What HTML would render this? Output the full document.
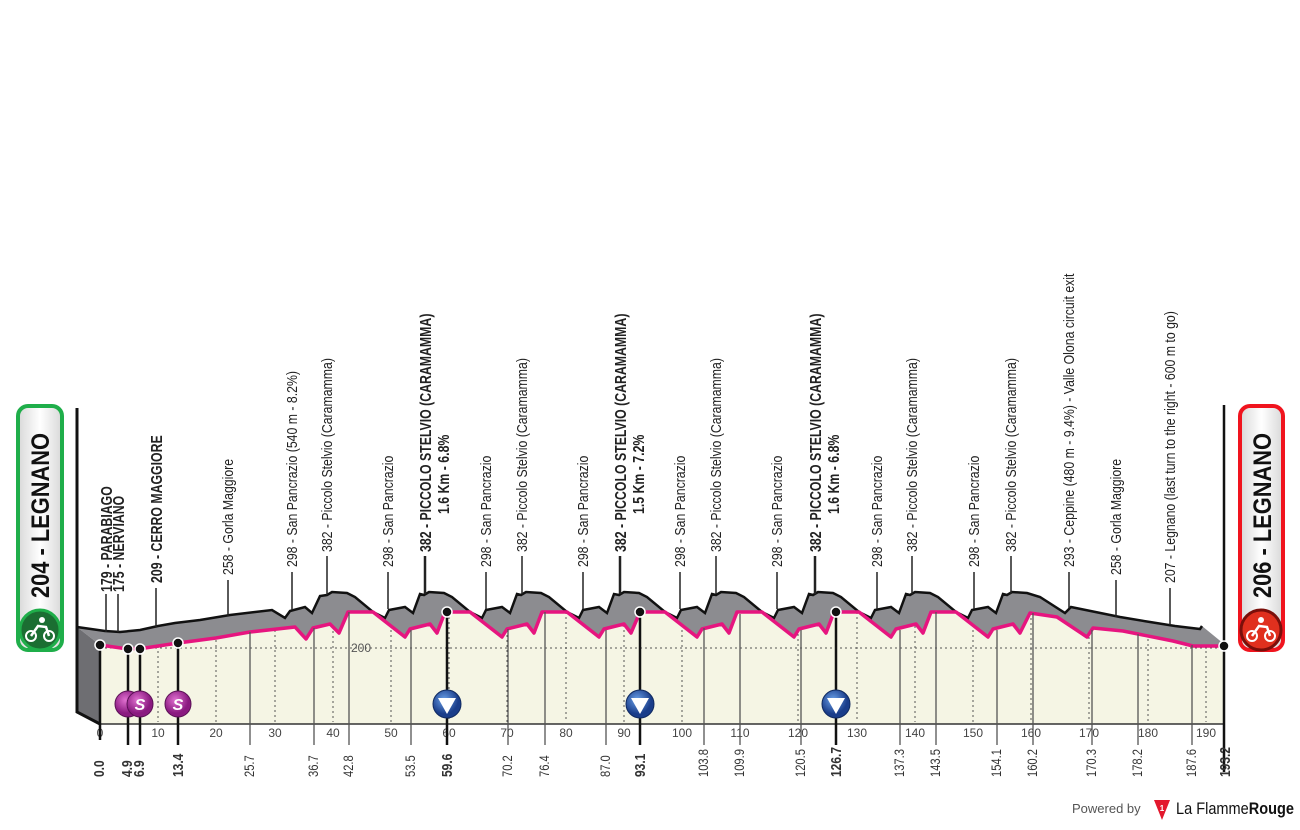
<!DOCTYPE html>
<html><head><meta charset="utf-8"><style>
body{margin:0;background:#fff;}
svg text{font-family:"Liberation Sans Narrow","Liberation Sans",sans-serif;}
</style></head><body>
<svg width="1300" height="825" viewBox="0 0 1300 825" xmlns="http://www.w3.org/2000/svg">
<defs>
<linearGradient id="bg" x1="0" x2="1"><stop offset="0" stop-color="#d8d8d8"/><stop offset="0.5" stop-color="#fff"/><stop offset="1" stop-color="#d8d8d8"/></linearGradient>
<radialGradient id="sg" cx="0.4" cy="0.35"><stop offset="0" stop-color="#e070d0"/><stop offset="1" stop-color="#8a1a80"/></radialGradient>
<radialGradient id="bl" cx="0.4" cy="0.35"><stop offset="0" stop-color="#6aa0e8"/><stop offset="1" stop-color="#1a3d8a"/></radialGradient>
</defs>
<polygon fill="#f5f5e4" points="100,645 128,649 145,648 178,643 216,638 250,632 295,627 306,639 313,628 330,624 339,633 348,612 373,612 405,637 410,629 430,624 437,633 445,612 470,612 502,637 507,629 527,624 534,633 542,612 567,612 599,637 604,629 624,624 631,633 640,612 665,612 697,637 702,629 722,624 729,633 737,612 762,612 794,637 799,629 819,624 826,633 834,612 859,612 891,637 896,629 916,624 923,633 931,612 956,612 988,637 993,629 1013,624 1020,633 1030,613 1057,617 1087,637 1093,628 1123,631 1173,641 1193,646 1224,646 1224,724 100,724"/>
<g stroke="#555" stroke-width="1" stroke-dasharray="2,3">
<line x1="158" y1="646" x2="158" y2="722"/><line x1="216" y1="640" x2="216" y2="722"/><line x1="275" y1="630" x2="275" y2="722"/><line x1="333" y1="626" x2="333" y2="722"/><line x1="391" y1="625" x2="391" y2="722"/><line x1="449" y1="612" x2="449" y2="722"/><line x1="507" y1="630" x2="507" y2="722"/><line x1="566" y1="612" x2="566" y2="722"/><line x1="624" y1="625" x2="624" y2="722"/><line x1="682" y1="625" x2="682" y2="722"/><line x1="740" y1="614" x2="740" y2="722"/><line x1="798" y1="634" x2="798" y2="722"/><line x1="857" y1="612" x2="857" y2="722"/><line x1="915" y1="626" x2="915" y2="722"/><line x1="973" y1="630" x2="973" y2="722"/><line x1="1031" y1="613" x2="1031" y2="722"/><line x1="1089" y1="632" x2="1089" y2="722"/><line x1="1148" y1="634" x2="1148" y2="722"/><line x1="1206" y1="646" x2="1206" y2="722"/>
<line x1="100" y1="648" x2="1224" y2="648"/>
</g>
<text x="351" y="652" font-size="12" fill="#555">200</text>
<polygon fill="#8c8c90" points="77,627 105,631 120,632 140,630 158,626 175,623 200,620 230,615 272,610 285,618 290,611 305,607 312,613 320,596 327,595 332,592 347,593 355,597 373,612 385,618 389,610 405,607 413,613 420,594 424,595 429,592 444,593 452,597 470,612 482,618 486,610 502,607 510,613 517,594 521,595 526,592 541,593 549,597 567,612 579,618 583,610 599,607 607,613 614,594 619,595 624,592 639,593 647,597 665,612 677,618 681,610 697,607 705,613 712,594 716,595 721,592 736,593 744,597 762,612 774,618 778,610 794,607 802,613 809,594 813,595 818,592 833,593 841,597 859,612 871,618 875,610 891,607 899,613 906,594 910,595 915,592 930,593 938,597 956,612 968,618 972,610 988,607 996,613 1003,594 1007,595 1012,592 1027,593 1040,597 1065,613 1071,607 1120,617 1150,622 1175,626 1200,629 1202,626 1224,644 1224,646 1193,646 1173,641 1123,631 1093,628 1087,637 1057,617 1030,613 1020,633 1013,624 993,629 988,637 956,612 931,612 923,633 916,624 896,629 891,637 859,612 834,612 826,633 819,624 799,629 794,637 762,612 737,612 729,633 722,624 702,629 697,637 665,612 640,612 631,633 624,624 604,629 599,637 567,612 542,612 534,633 527,624 507,629 502,637 470,612 445,612 437,633 430,624 410,629 405,637 373,612 348,612 339,633 330,624 313,628 306,639 295,627 250,632 216,638 178,643 145,648 128,649 100,645"/>
<polygon fill="#6e6e72" points="77,627 100,645 100,724 77,712"/>
<polyline fill="none" stroke="#111" stroke-width="2.5" points="77,627 105,631 120,632 140,630 158,626 175,623 200,620 230,615 272,610 285,618 290,611 305,607 312,613 320,596 327,595 332,592 347,593 355,597 373,612 385,618 389,610 405,607 413,613 420,594 424,595 429,592 444,593 452,597 470,612 482,618 486,610 502,607 510,613 517,594 521,595 526,592 541,593 549,597 567,612 579,618 583,610 599,607 607,613 614,594 619,595 624,592 639,593 647,597 665,612 677,618 681,610 697,607 705,613 712,594 716,595 721,592 736,593 744,597 762,612 774,618 778,610 794,607 802,613 809,594 813,595 818,592 833,593 841,597 859,612 871,618 875,610 891,607 899,613 906,594 910,595 915,592 930,593 938,597 956,612 968,618 972,610 988,607 996,613 1003,594 1007,595 1012,592 1027,593 1040,597 1065,613 1071,607 1120,617 1150,622 1175,626 1200,629 1202,626"/>
<polyline fill="none" stroke="#111" stroke-width="3" points="77,408 77,712 100,724"/>
<line x1="100" y1="724" x2="1224" y2="724" stroke="#333" stroke-width="1.5"/>
<line x1="1224" y1="405" x2="1224" y2="772" stroke="#111" stroke-width="2.5"/>
<polyline fill="none" stroke="#e6157f" stroke-width="3.5" stroke-linejoin="round" points="100,645 128,649 145,648 178,643 216,638 250,632 295,627 306,639 313,628 330,624 339,633 348,612 373,612 405,637 410,629 430,624 437,633 445,612 470,612 502,637 507,629 527,624 534,633 542,612 567,612 599,637 604,629 624,624 631,633 640,612 665,612 697,637 702,629 722,624 729,633 737,612 762,612 794,637 799,629 819,624 826,633 834,612 859,612 891,637 896,629 916,624 923,633 931,612 956,612 988,637 993,629 1013,624 1020,633 1030,613 1057,617 1087,637 1093,628 1123,631 1173,641 1193,646 1224,646"/>
<g stroke="#222" stroke-width="1.5">
<line x1="106" y1="594" x2="106" y2="632"/><line x1="118" y1="594" x2="118" y2="632"/>
<line x1="156" y1="588" x2="156" y2="627"/>
<line x1="228" y1="580" x2="228" y2="616"/>
<line x1="292" y1="572" x2="292" y2="610"/><line x1="327" y1="556" x2="327" y2="595"/>
<line x1="388" y1="572" x2="388" y2="609"/><line x1="425" y1="556" x2="425" y2="594" stroke-width="2.5"/>
<line x1="486" y1="572" x2="486" y2="609"/><line x1="522" y1="556" x2="522" y2="594"/>
<line x1="583" y1="572" x2="583" y2="609"/><line x1="620" y1="556" x2="620" y2="594" stroke-width="2.5"/>
<line x1="680" y1="572" x2="680" y2="609"/><line x1="716" y1="556" x2="716" y2="594"/>
<line x1="777" y1="572" x2="777" y2="609"/><line x1="815" y1="556" x2="815" y2="594" stroke-width="2.5"/>
<line x1="877" y1="572" x2="877" y2="609"/><line x1="912" y1="556" x2="912" y2="594"/>
<line x1="974" y1="572" x2="974" y2="609"/><line x1="1011" y1="556" x2="1011" y2="594"/>
<line x1="1069" y1="572" x2="1069" y2="608"/><line x1="1116" y1="580" x2="1116" y2="617"/><line x1="1170" y1="588" x2="1170" y2="625"/>
</g>
<g font-size="15" fill="#222">
<text transform="translate(112,592) rotate(-90) scale(0.77,1)" font-weight="bold" font-size="16">179 - PARABIAGO</text>
<text transform="translate(124,592) rotate(-90) scale(0.77,1)" font-weight="bold" font-size="16">175 - NERVIANO</text>
<text transform="translate(162,583) rotate(-90) scale(0.77,1)" font-weight="bold" font-size="16">209 - CERRO MAGGIORE</text>
<text transform="translate(233,575) rotate(-90) scale(0.82,1)">258 - Gorla Maggiore</text>
<text transform="translate(297,567) rotate(-90) scale(0.82,1)">298 - San Pancrazio (540 m - 8.2%)</text>
<text transform="translate(332,552) rotate(-90) scale(0.82,1)">382 - Piccolo Stelvio (Caramamma)</text>
<text transform="translate(393,567) rotate(-90) scale(0.82,1)">298 - San Pancrazio</text>
<text transform="translate(431,552) rotate(-90) scale(0.77,1)" font-weight="bold" font-size="16">382 - PICCOLO STELVIO (CARAMAMMA)</text>
<text transform="translate(449,514) rotate(-90) scale(0.77,1)" font-weight="bold" font-size="16">1.6 Km - 6.8%</text>
<text transform="translate(491,567) rotate(-90) scale(0.82,1)">298 - San Pancrazio</text>
<text transform="translate(527,552) rotate(-90) scale(0.82,1)">382 - Piccolo Stelvio (Caramamma)</text>
<text transform="translate(588,567) rotate(-90) scale(0.82,1)">298 - San Pancrazio</text>
<text transform="translate(626,552) rotate(-90) scale(0.77,1)" font-weight="bold" font-size="16">382 - PICCOLO STELVIO (CARAMAMMA)</text>
<text transform="translate(644,514) rotate(-90) scale(0.77,1)" font-weight="bold" font-size="16">1.5 Km - 7.2%</text>
<text transform="translate(685,567) rotate(-90) scale(0.82,1)">298 - San Pancrazio</text>
<text transform="translate(721,552) rotate(-90) scale(0.82,1)">382 - Piccolo Stelvio (Caramamma)</text>
<text transform="translate(782,567) rotate(-90) scale(0.82,1)">298 - San Pancrazio</text>
<text transform="translate(821,552) rotate(-90) scale(0.77,1)" font-weight="bold" font-size="16">382 - PICCOLO STELVIO (CARAMAMMA)</text>
<text transform="translate(839,514) rotate(-90) scale(0.77,1)" font-weight="bold" font-size="16">1.6 Km - 6.8%</text>
<text transform="translate(882,567) rotate(-90) scale(0.82,1)">298 - San Pancrazio</text>
<text transform="translate(917,552) rotate(-90) scale(0.82,1)">382 - Piccolo Stelvio (Caramamma)</text>
<text transform="translate(979,567) rotate(-90) scale(0.82,1)">298 - San Pancrazio</text>
<text transform="translate(1016,552) rotate(-90) scale(0.82,1)">382 - Piccolo Stelvio (Caramamma)</text>
<text transform="translate(1074,567) rotate(-90) scale(0.82,1)">293 - Ceppine (480 m - 9.4%) - Valle Olona circuit exit</text>
<text transform="translate(1121,575) rotate(-90) scale(0.82,1)">258 - Gorla Maggiore</text>
<text transform="translate(1175,583) rotate(-90) scale(0.82,1)">207 - Legnano (last turn to the right - 600 m to go)</text>
</g>
<g font-size="12" fill="#444" text-anchor="middle">
<text x="100" y="737">0</text><text x="158" y="737">10</text><text x="216" y="737">20</text><text x="275" y="737">30</text><text x="333" y="737">40</text><text x="391" y="737">50</text><text x="449" y="737">60</text><text x="507" y="737">70</text><text x="566" y="737">80</text><text x="624" y="737">90</text><text x="682" y="737">100</text><text x="740" y="737">110</text><text x="798" y="737">120</text><text x="857" y="737">130</text><text x="915" y="737">140</text><text x="973" y="737">150</text><text x="1031" y="737">160</text><text x="1089" y="737">170</text><text x="1148" y="737">180</text><text x="1206" y="737">190</text>
</g>
<g stroke="#555" stroke-width="1.3">
<line x1="250" y1="632" x2="250" y2="745"/><line x1="314" y1="628" x2="314" y2="745"/><line x1="349" y1="612" x2="349" y2="745"/><line x1="411" y1="630" x2="411" y2="745"/><line x1="508" y1="629" x2="508" y2="745"/><line x1="545" y1="612" x2="545" y2="745"/><line x1="606" y1="630" x2="606" y2="745"/><line x1="704" y1="628" x2="704" y2="745"/><line x1="740" y1="614" x2="740" y2="745"/><line x1="801" y1="630" x2="801" y2="745"/><line x1="900" y1="630" x2="900" y2="745"/><line x1="936" y1="612" x2="936" y2="745"/><line x1="997" y1="630" x2="997" y2="745"/><line x1="1033" y1="613" x2="1033" y2="745"/><line x1="1092" y1="630" x2="1092" y2="745"/><line x1="1138" y1="634" x2="1138" y2="745"/><line x1="1192" y1="645" x2="1192" y2="745"/>
</g>
<g stroke="#111" stroke-width="2.5">
<line x1="100" y1="645" x2="100" y2="740"/><line x1="128" y1="649" x2="128" y2="745"/><line x1="140" y1="649" x2="140" y2="745"/><line x1="178" y1="643" x2="178" y2="745"/>
<line x1="447" y1="612" x2="447" y2="745"/><line x1="640" y1="612" x2="640" y2="745"/><line x1="836" y1="612" x2="836" y2="745"/>
</g>
<g font-size="14" fill="#333">
<text transform="translate(104,777) rotate(-90) scale(0.8,1)" font-weight="bold" font-size="15">0.0</text>
<text transform="translate(132,777) rotate(-90) scale(0.8,1)" font-weight="bold" font-size="15">4.9</text>
<text transform="translate(144,777) rotate(-90) scale(0.8,1)" font-weight="bold" font-size="15">6.9</text>
<text transform="translate(183,777) rotate(-90) scale(0.8,1)" font-weight="bold" font-size="15">13.4</text>
<text transform="translate(254,777) rotate(-90) scale(0.8,1)">25.7</text>
<text transform="translate(318,777) rotate(-90) scale(0.8,1)">36.7</text>
<text transform="translate(353,777) rotate(-90) scale(0.8,1)">42.8</text>
<text transform="translate(415,777) rotate(-90) scale(0.8,1)">53.5</text>
<text transform="translate(452,777) rotate(-90) scale(0.8,1)" font-weight="bold" font-size="15">59.6</text>
<text transform="translate(512,777) rotate(-90) scale(0.8,1)">70.2</text>
<text transform="translate(549,777) rotate(-90) scale(0.8,1)">76.4</text>
<text transform="translate(610,777) rotate(-90) scale(0.8,1)">87.0</text>
<text transform="translate(645,777) rotate(-90) scale(0.8,1)" font-weight="bold" font-size="15">93.1</text>
<text transform="translate(708,777) rotate(-90) scale(0.8,1)">103.8</text>
<text transform="translate(744,777) rotate(-90) scale(0.8,1)">109.9</text>
<text transform="translate(805,777) rotate(-90) scale(0.8,1)">120.5</text>
<text transform="translate(841,777) rotate(-90) scale(0.8,1)" font-weight="bold" font-size="15">126.7</text>
<text transform="translate(904,777) rotate(-90) scale(0.8,1)">137.3</text>
<text transform="translate(940,777) rotate(-90) scale(0.8,1)">143.5</text>
<text transform="translate(1001,777) rotate(-90) scale(0.8,1)">154.1</text>
<text transform="translate(1037,777) rotate(-90) scale(0.8,1)">160.2</text>
<text transform="translate(1096,777) rotate(-90) scale(0.8,1)">170.3</text>
<text transform="translate(1142,777) rotate(-90) scale(0.8,1)">178.2</text>
<text transform="translate(1196,777) rotate(-90) scale(0.8,1)">187.6</text>
<text transform="translate(1230,777) rotate(-90) scale(0.8,1)" font-weight="bold" font-size="15">193.2</text>
</g>
<g fill="#111" stroke="#fff" stroke-width="1.5">
<circle cx="100" cy="645" r="5"/><circle cx="128" cy="649" r="5"/><circle cx="140" cy="649" r="5"/><circle cx="178" cy="643" r="5"/>
<circle cx="447" cy="612" r="5"/><circle cx="640" cy="612" r="5"/><circle cx="836" cy="612" r="5"/><circle cx="1224" cy="646" r="5"/>
</g>
<g stroke="#5a1055" stroke-width="1">
<circle cx="128" cy="704" r="13" fill="url(#sg)"/><circle cx="140" cy="704" r="13" fill="url(#sg)"/><circle cx="178" cy="704" r="13" fill="url(#sg)"/>
</g>
<g font-family="Liberation Sans" font-weight="bold" font-style="italic" font-size="16" fill="#fff" text-anchor="middle">
<text x="140" y="710">S</text><text x="178" y="710">S</text>
</g>
<g>
<circle cx="447" cy="704" r="14" fill="url(#bl)" stroke="#102a60"/><polygon points="438,698 456,698 447,714" fill="#fff"/>
<circle cx="640" cy="704" r="14" fill="url(#bl)" stroke="#102a60"/><polygon points="631,698 649,698 640,714" fill="#fff"/>
<circle cx="836" cy="704" r="14" fill="url(#bl)" stroke="#102a60"/><polygon points="827,698 845,698 836,714" fill="#fff"/>
</g>
<rect x="18" y="406" width="44" height="244" rx="10" fill="url(#bg)" stroke="#1fae4a" stroke-width="4"/>
<text transform="translate(49,598) rotate(-90) scale(0.95,1.1)" font-family="Liberation Sans" font-weight="bold" font-size="23" fill="#111">204 - LEGNANO</text>
<circle cx="40" cy="630" r="20" fill="#1b6e32" stroke="#1fae4a" stroke-width="3"/>
<circle cx="31" cy="636" r="5" fill="none" stroke="#fff" stroke-width="2"/><circle cx="49" cy="636" r="5" fill="none" stroke="#fff" stroke-width="2"/>
<path d="M31,636 L38,626 L46,627 L49,636" fill="none" stroke="#fff" stroke-width="2.5"/><circle cx="42" cy="620" r="3" fill="#fff"/>
<rect x="1240" y="406" width="43" height="244" rx="10" fill="url(#bg)" stroke="#f0141e" stroke-width="4"/>
<text transform="translate(1271,598) rotate(-90) scale(0.95,1.1)" font-family="Liberation Sans" font-weight="bold" font-size="23" fill="#111">206 - LEGNANO</text>
<circle cx="1261" cy="630" r="20" fill="#e0301e" stroke="#7a0f0a" stroke-width="3"/>
<circle cx="1252" cy="636" r="5" fill="none" stroke="#fff" stroke-width="2"/><circle cx="1270" cy="636" r="5" fill="none" stroke="#fff" stroke-width="2"/>
<path d="M1252,636 L1259,626 L1267,627 L1270,636" fill="none" stroke="#fff" stroke-width="2.5"/><circle cx="1261" cy="620" r="3" fill="#fff"/>
<text x="1072" y="813" font-family="Liberation Sans" font-size="13" fill="#555">Powered by</text>
<polygon points="1154,800 1170,800 1162,820" fill="#e3182d"/>
<text x="1162" y="811" font-family="Liberation Sans" font-weight="bold" font-size="8" fill="#fff" text-anchor="middle">1</text>
<text x="1176" y="814" font-family="Liberation Sans" font-size="17" fill="#111" textLength="118" lengthAdjust="spacingAndGlyphs">La Flamme<tspan font-weight="bold">Rouge</tspan></text>
</svg>
</body></html>
